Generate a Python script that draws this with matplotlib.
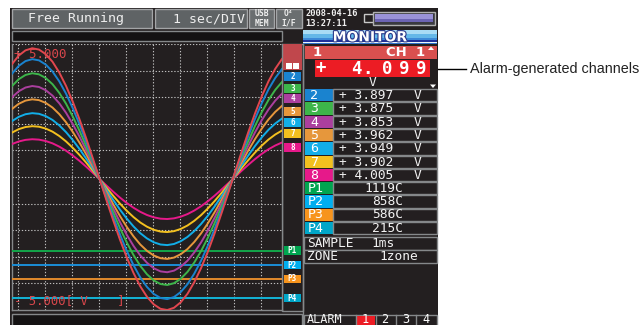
import numpy as np
import matplotlib.pyplot as plt
from matplotlib.patches import Rectangle, Polygon
import matplotlib.patheffects as pe

wave = [0.879, 0.944, 0.984, 1.000, 0.990, 0.955, 0.897, 0.815, 0.713, 0.592,
        0.457, 0.310, 0.155, -0.003, -0.162, -0.316, -0.463, -0.598, -0.717, -0.819,
        -0.899, -0.957, -0.991, -1.000, -0.983, -0.941, -0.876, -0.788, -0.681, -0.556,
        -0.417, -0.267, -0.111, 0.048, 0.206, 0.358, 0.502, 0.633, 0.748, 0.843, 0.918]
ch_names = ['1', '2', '3', '4', '5', '6', '7', '8']
ch_amp = [4.92, 4.51, 3.98, 3.50, 3.00, 2.48, 1.99, 1.50]   # V
ch_offset = -0.08
ch_colors = ['#e2474f', '#1a83cf', '#3db54a', '#ab3f9e', '#e6973c', '#12aee8', '#f3c01f', '#e6198a']
ch_readings = ['4.099', '3.897', '3.875', '3.853', '3.962', '3.949', '3.902', '4.005']

alarm_names = ['P1', 'P2', 'P3', 'P4']
alarm_levels = [-2.77, -3.31, -3.83, -4.55]   # V
alarm_colors = ['#13a64a', '#1b8dd6', '#e38a2c', '#13b4d6']
alarm_box_colors = ['#00a550', '#00aeef', '#f7941d', '#00a6c8']
alarm_readings = ['1119C', '858C', '586C', '215C']

BG = '#231f20'
EDGE = '#85888a'
MONO = 'DejaVu Sans Mono'

fig = plt.figure(figsize=(6.42, 3.25), dpi=100)
ui = fig.add_axes([0, 0, 1, 1])
ui.set_xlim(0, 642)
ui.set_ylim(325, 0)
ui.axis('off')


def box(x0, y0, x1, y1, fc='none', ec='none', lw=1.0, z=1):
    ui.add_patch(Rectangle((x0, y0), x1 - x0, y1 - y0, facecolor=fc, edgecolor=ec, linewidth=lw, zorder=z))


def txt(x, y, s, size=9.3, color='white', ha='left', weight='normal', family=MONO, z=5):
    return ui.text(x, y, s, fontsize=size, color=color, ha=ha, va='center', fontweight=weight,
                   family=family, zorder=z)


# screen background
box(10, 8, 438, 325, fc=BG)

# top status bar
box(12, 9, 152, 28, fc='#5f6365', ec='#a3a5a7')
txt(28, 18.8, 'Free Running', 9.5, '#eeeeee')
box(155, 9, 247, 28, fc='#5f6365', ec='#a3a5a7')
txt(245, 18.8, '1 sec/DIV', 9.5, '#eeeeee', ha='right')
box(249, 9, 274, 28, fc='#6a6e70', ec='#a3a5a7')
txt(261.5, 13.5, 'USB', 5.8, '#eeeeee', ha='center', weight='bold')
txt(261.5, 23.5, 'MEM', 5.8, '#eeeeee', ha='center', weight='bold')
box(276, 9, 302, 28, fc='#6a6e70', ec='#a3a5a7')
txt(289, 13.5, 'O\u2074', 5.8, '#eeeeee', ha='center', weight='bold')
txt(289, 23.5, 'I/F', 5.8, '#eeeeee', ha='center', weight='bold')
txt(305, 13.2, '2008-04-16', 6.3, '#f0f0f0', weight='bold')
txt(305, 23.2, '13:27:11', 6.3, '#f0f0f0', weight='bold')
# memory bar icon
box(364, 14, 376, 22, ec='#c8c8c8', lw=1.0)
box(373, 11.5, 435, 24.5, fc='#3a3a40', ec='#b0b0b0', lw=1.0)
box(375, 14, 433, 19, fc='#9a92d8')
box(375, 19, 433, 22, fc='#6c64b4')

# message bar and bottom bar
box(12, 31, 282, 41, fc='#141213', ec=EDGE)
box(12, 314, 302, 326, fc='#141213', ec=EDGE)
# marker column
box(282, 43.5, 303, 311, ec=EDGE)
box(283, 44, 302, 70, fc='#c0474c')
box(286, 63, 292, 69, fc='white', z=2)
box(293, 63, 299, 69, fc='white', z=2)
marker_tops = [72, 84, 94, 107, 118, 129, 143]
for name, col, top in zip(ch_names[1:], ch_colors[1:], marker_tops):
    box(284, top, 301, top + 8.5, fc=col, z=2)
    txt(292.5, top + 4.4, name, 5.5, 'white', ha='center', weight='bold')

# ---- waveform area ----
ax = fig.add_axes([12 / 642, 15 / 325, 270 / 642, 266 / 325], facecolor=BG, zorder=3)
ax.set_xlim(0, 10)
ax.set_ylim(-5, 5)
ax.set_xticks([])
ax.set_yticks([])
for sp in ax.spines.values():
    sp.set_color(EDGE)
    sp.set_linewidth(1.0)
ax.spines['top'].set_visible(False)

grid_kw = dict(color='#bdbdbd', linewidth=0.8, linestyle=(0, (1.2, 1.6)), zorder=1)
for gx in np.arange(10) + 6 / 27:
    ax.axvline(gx, **grid_kw)
for gy in np.arange(-4, 6):
    ax.axhline(gy, **grid_kw)

t_div = np.linspace(0, 10, len(wave))
for amp, col in zip(ch_amp[::-1], ch_colors[::-1]):
    ax.plot(t_div, amp * np.array(wave) + ch_offset, color=col, linewidth=1.4, zorder=4)

ytr = ax.get_yaxis_transform()
for name, lvl, lc, bc in zip(alarm_names, alarm_levels, alarm_colors, alarm_box_colors):
    ax.axhline(lvl, color=lc, linewidth=1.4, zorder=3)
    ax.add_patch(Rectangle((272 / 270, lvl - 0.16), 17 / 270, 0.32, facecolor=bc, transform=ytr,
                           clip_on=False, zorder=6))
    ax.text(280.5 / 270, lvl, name, transform=ytr, fontsize=5.5, color='white', ha='center',
            va='center', fontweight='bold', family=MONO, clip_on=False, zorder=7)

ax.text(0.008, 0.985, '+ 5.000', transform=ax.transAxes, fontsize=9, color='#d9474c',
        family=MONO, ha='left', va='top', zorder=5)
ax.text(0.008, 0.012, '- 5.000[ V    ]', transform=ax.transAxes, fontsize=8.8, color='#d9474c',
        family=MONO, ha='left', va='bottom', zorder=5)

# ---- monitor panel ----
ui.plot([303, 303], [44, 325], color=EDGE, linewidth=1.0, zorder=2)
box(303, 30, 437, 34, fc='#a8dcf5')
box(303, 34, 437, 37.5, fc='#64b8e8')
box(303, 37.5, 437, 39.5, fc='#3c8ad8')
box(303, 39.5, 437, 41.5, fc='#20309a')
box(303, 41.5, 437, 42.7, fc='#e8f4fc')
box(303, 42.7, 437, 44, fc='#3070c8')
ui.text(370, 37.3, 'MONITOR', fontsize=10, color='white', ha='center', va='center', fontweight='bold',
        family='DejaVu Sans', zorder=5,
        path_effects=[pe.withStroke(linewidth=1.6, foreground='#2a3a8a')])

box(305, 46, 437, 58.5, fc='#d9504f')
txt(313, 52.3, ch_names[0], 9.5, 'white', weight='bold', family='DejaVu Sans')
txt(386, 52.3, 'CH  1', 9.5, 'white', weight='bold', family='DejaVu Sans')
ui.add_patch(Polygon([[428, 50], [434, 50], [431, 46.5]], closed=True, facecolor='white', zorder=5))
box(315, 60, 430, 76.5, fc='#ec1c24', z=2)
for ch, cx in zip('+' + ch_readings[0], [321, 356, 367, 387, 404, 421]):
    txt(cx, 68.5, ch, 12.5, 'white', ha='center', weight='bold')
txt(373, 82.3, 'V', 9.3, '#eeeeee', ha='center')
ui.add_patch(Polygon([[430, 84.5], [436, 84.5], [433, 88]], closed=True, facecolor='white', zorder=5))

row_h = 13.35
for i, (name, col, val) in enumerate(zip(ch_names[1:], ch_colors[1:], ch_readings[1:])):
    top = 89 + i * row_h
    box(305, top, 333, top + row_h - 1, fc=col, z=2)
    box(333, top, 437, top + row_h - 1, fc=BG, ec=EDGE, lw=1.0, z=2)
    txt(310, top + 6.3, name, 9.5, 'white')
    txt(339, top + 6.3, '+ ' + val, 9.3, '#f2f2f2')
    txt(414, top + 6.3, 'V', 9.3, '#f2f2f2')

for i, (name, col, val) in enumerate(zip(alarm_names, alarm_box_colors, alarm_readings)):
    top = 182 + i * row_h
    box(305, top, 333, top + row_h - 1, fc=col, z=2)
    box(333, top, 437, top + row_h - 1, fc=BG, ec=EDGE, lw=1.0, z=2)
    txt(308, top + 6.3, name, 9.5, 'white')
    txt(403, top + 6.3, val, 9.3, '#f2f2f2', ha='right')

box(304, 237, 437, 250, fc=BG, ec=EDGE, lw=1.0, z=2)
box(304, 250, 437, 263, fc=BG, ec=EDGE, lw=1.0, z=2)
txt(307, 243.6, 'SAMPLE', 9.3, '#f2f2f2')
txt(371, 243.6, '1ms', 9.3, '#f2f2f2')
txt(307, 256.6, 'ZONE', 9.3, '#f2f2f2')
txt(379, 256.6, '1zone', 9.3, '#f2f2f2')

box(304, 315, 437, 326, fc=BG, ec=EDGE, lw=1.0, z=2)
txt(307, 319.6, 'ALARM', 8.6, '#f2f2f2')
box(356, 315.5, 375, 326, fc='#ec1c24', z=3)
for n, cx in zip(['1', '2', '3', '4'], [365.5, 385, 405.5, 426]):
    txt(cx, 319.6, n, 8.6, 'white', ha='center')
for sx in [355.5, 375.5, 395.5, 416]:
    ui.plot([sx, sx], [315, 325], color=EDGE, linewidth=1.0, zorder=4)

# callout
ui.plot([438, 466], [69, 69], color='black', linewidth=1.0, zorder=5)
ui.text(470, 69, 'Alarm-generated channels', fontsize=10.4, color='#222222', ha='left', va='center',
        family='Liberation Sans', zorder=5)

fig.savefig('out.png', dpi=100, facecolor='white')
